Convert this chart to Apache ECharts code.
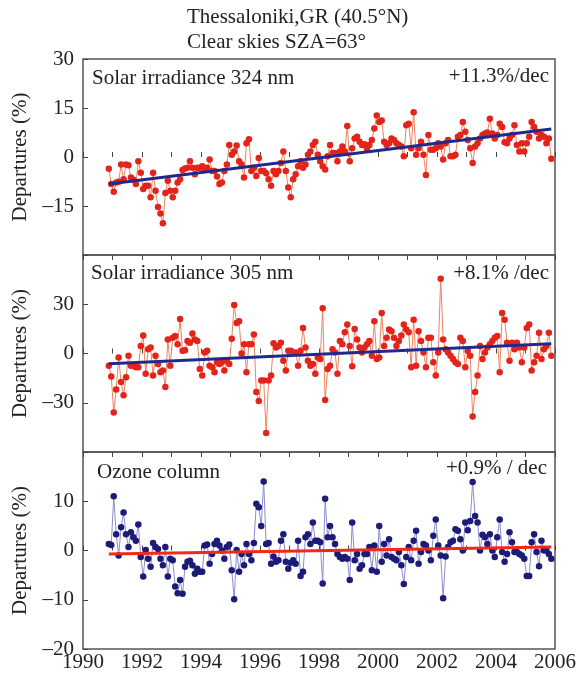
<!DOCTYPE html>
<html><head><meta charset="utf-8">
<script src="https://cdn.jsdelivr.net/npm/echarts@6/dist/echarts.min.js"></script>
<style>html,body{margin:0;padding:0;background:#fff}#c{width:580px;height:673px}</style>
</head><body><div id="c"></div>
<script>
// ---- data (monthly departures, %) ----
const startYear = 1990.875;   // first monthly point
const monthStep = 1 / 12;
const uv324 = [
-3.6,
-8.3,-10.6,-7.8,-7.6,-2.3,-6.8,-2.3,-2.5,-6.3,-7,-8.3,-1.3,
-4.8,-9.8,-8.8,-8.8,-12.3,-4.8,-10.3,-15.3,-17.3,-20.3,-11,-7.3,
-10.3,-12.3,-10.3,-7.8,-6.8,-4,-3.5,-3.3,-1.3,-3.3,-5.3,-3.3,
-3.3,-2.8,-3.8,-3.3,-0.8,-4.3,-4.3,-6,-8.3,-7.8,-4.3,-2.3,
3.7,0.7,1.7,3.5,-1.3,-2.3,-6.3,4.2,5.4,-4.3,-3.3,-5.8,
-0.3,-4.3,-4.3,-5,-6.8,-8.8,-4.3,-5.3,-4.3,-1.8,1.7,-4.3,
-9.3,-12.3,-6.8,-5.3,-2.8,-1.3,-3.3,-2.3,0.7,1.7,3.7,4.7,
0.7,-1.3,-2.8,-3.8,0.2,3.7,1.2,1.2,-1.3,1.7,3.2,1.7,
9.5,-1.3,2.7,5.7,6.2,4.7,3.7,3.9,2.7,3.7,5.2,8.7,
12.7,10.7,11.2,4.7,3.7,4.2,5.7,5.2,4.2,3.7,3.2,0.2,
9.7,10.2,2.7,13.7,0.7,2.7,4.7,0.7,-5.5,6.7,2.2,2.2,
2.7,4.2,3.2,-0.8,4.2,5.2,0.2,0.2,0.7,6.2,6.7,10.7,
7.7,5.2,2.7,-1.8,3.2,4.2,5.7,6.7,7.2,7.5,11.7,7.2,
5.7,6.7,10.2,9.2,4.5,4.2,5.7,6.7,9.7,3.7,1.7,4.2,
1.7,4.2,6.2,10.7,9.2,7.7,5.7,6.7,6.2,4.2,5.7,-0.5
];
const uv305 = [
-7.4,
-14,-36,-22,-2.4,-17.4,-25.4,-14.4,-1.4,-7.4,-7.4,-8.4,-8.4,
4.6,11,-12.4,2.6,3.6,-13.4,-1.4,-6.4,-11.4,-10.4,-20.4,8.6,
-7.4,9.6,10.6,5.6,21,1.6,2,7.6,6.6,12.2,8.6,7.6,
-9.4,-13.4,0.6,1.6,-7.4,-8.4,-11.4,-5.4,-6.4,-5.4,-10.4,-4.4,
-6.4,9,29.6,18.6,19.6,0,5.6,-11.4,5.6,5.6,11.6,-23.4,
-29,-16.4,-16.4,-48.4,-16.4,-13.4,6.2,3.6,4.6,6.6,-4.4,-10.4,
1.6,1.6,0.6,0.6,-7.4,1.6,15.6,3.6,-4.4,-7.4,-6.4,-12.4,
-2.4,-3.4,27.6,-28.4,-9.4,-7.4,2.6,0.6,-12.4,7.6,5.6,13,
17.6,4.6,-7.8,15,8.6,3.6,0.6,3.6,5.6,7.6,-1.4,19.6,
-3.4,-2.4,24.6,4.6,9.6,14.6,13.6,9.6,4.6,7.6,11,17.6,
14.6,13,-8.4,20.6,-7.4,13.6,7.6,0.6,-8.4,9.6,9.6,-5.4,
-13.4,0.6,45.6,8.6,2.6,0.6,-1.4,-3.4,-5.4,-6.4,9.6,7.6,
-8.4,1.6,-1.4,-38.4,-23.4,-13.4,4.6,-3.4,0.6,3.6,5.6,7.6,
9.6,10.6,-11.4,24.6,20.6,6.6,-4.4,6.6,2.6,6.6,3.6,-5.4,
3.6,15.6,17.6,-10.4,-5.4,-1.4,12.6,-3.4,2.6,4.6,12.6,-1.4
];
const ozone = [
1.3,
1.1,11,3.3,-1,4.7,7.7,3.3,0.7,3.7,2.7,2,5.3,
-1.3,-5.3,0.1,-1.7,-3.3,1.5,0.7,0.3,-1.7,-3,0.7,-5.3,
-1.7,-2,-7.3,-8.7,-6,-8.8,-3.3,-2.3,-2.1,-3,-4.7,-3.7,
-4.3,-4.3,1,1.2,-2.7,-0.7,1.3,2,1,0,-1.7,0.7,
1.2,-4,-9.9,0.1,-4.3,-0.7,-3,1.3,-0.7,-2,1.5,9.5,
8.8,5,14,1.3,1.5,-2.7,-1.2,-2.3,-2,2,3.3,-2.3,
-3.7,-2.5,-2,-2.7,2,-5.2,-4.3,2.7,3.3,1.3,5.7,2,
2,1.7,-6.7,10.5,2.7,5,2.7,1.3,-0.7,-1.3,-1.7,-1.3,
-1.7,-6,5.7,-2,-0.7,-3.7,-3,-0.7,-0.7,0.7,-4,1,
-4.3,5,-2.3,1.3,-1,2.3,-1.3,-1.7,-2,-0.3,-3,-6.8,
-1.3,0.7,-2,2,4,-2.7,-0.3,1.3,1,0,-2,3,
6.3,1,-1,-9.7,-1.2,0.7,1.7,2,4.3,4,2.3,0,
5.7,4.1,6,13.9,7,5.7,0,3.2,2.7,1.3,3.3,0,
-1.3,2.7,6.3,-0.3,-2.3,-0.7,3.7,1.7,-0.3,-0.3,-0.7,-1,
-1.7,-5.2,-5.2,1.7,3.3,-0.3,-3.2,2,0,0,-0.7,-1.7
];
// linear trends: value at first and last month
const trend324 = [-8.3, 8.6];
const trend305 = [-6.3, 6.0];
const trendOzone = [-0.7, 0.7];
const trendLabels = ['+11.3%/dec', '+8.1% /dec', '+0.9% / dec'];
const panelLabels = ['Solar irradiance 324 nm', 'Solar irradiance 305 nm', 'Ozone column'];
const titleLines = ['Thessaloniki,GR (40.5\u00B0N)', 'Clear skies SZA=63\u00B0'];
const yName = 'Departures (%)';

// ---- chart ----
const F = '"Liberation Serif","Times New Roman",serif';
const toXY = arr => arr.map((v, i) => [startYear + i * monthStep, v]);
const endYear = startYear + (uv324.length - 1) * monthStep;
const trendXY = t => [[startYear, t[0]], [endYear, t[1]]];

const grids = [
  {left: 83, width: 472, top: 59, height: 196},
  {left: 83, width: 472, top: 255, height: 197},
  {left: 83, width: 472, top: 452, height: 200}
].map(g => Object.assign(g, {show: true, borderColor: '#555', borderWidth: 1.5, backgroundColor: 'transparent'}));

function xAx(gi, pos, labels) {
  return {type: 'value', gridIndex: gi, position: pos, min: 1990, max: 2006, interval: 1,
    axisLine: {show: false}, splitLine: {show: false},
    axisTick: {show: true, inside: true, length: 5, lineStyle: {color: '#444', width: 1}},
    axisLabel: {show: labels, formatter: v => (v % 2 === 0 ? String(v) : ''), color: '#222',
      fontSize: 21, fontFamily: F, margin: 3}};
}
function yAx(gi, min, max, interval, hide) {
  return {type: 'value', gridIndex: gi, min, max, interval,
    axisLine: {show: false}, splitLine: {show: false},
    axisTick: {show: true, inside: true, length: 5, lineStyle: {color: '#444', width: 1}},
    axisLabel: {formatter: v => (hide.indexOf(v) >= 0 ? '' : String(v).replace('-', '\u2013')),
      color: '#222', fontSize: 21, fontFamily: F, margin: 9},
    name: yName, nameLocation: 'middle', nameGap: 52,
    nameTextStyle: {color: '#222', fontSize: 21, fontFamily: F}};
}

function dataSeries(xi, yi, arr, mc, lc) {
  return {type: 'line', xAxisIndex: xi, yAxisIndex: yi, data: toXY(arr), symbol: 'circle',
    symbolSize: 6.5, showSymbol: true, showAllSymbol: true,
    itemStyle: {color: mc}, lineStyle: {color: lc, width: 1}, z: 2, silent: true};
}
function trendSeries(xi, yi, t, c) {
  return {type: 'line', xAxisIndex: xi, yAxisIndex: yi, data: trendXY(t), symbol: 'none',
    lineStyle: {color: c, width: 3}, z: 5, silent: true};
}

const txt = (x, y, s, align) => ({type: 'text', x, y,
  style: {text: s, font: '21px ' + F, fill: '#222', textAlign: align || 'left', textVerticalAlign: 'middle'}});

const option = {
  animation: false,
  grid: grids,
  xAxis: [xAx(0, 'bottom', false), xAx(1, 'bottom', false), xAx(2, 'bottom', true),
          xAx(1, 'top', false), xAx(2, 'top', false)],
  yAxis: [yAx(0, -30, 30, 15, [-30]), yAx(1, -60, 60, 30, [60, -60]), yAx(2, -20, 20, 10, [20])],
  series: [
    dataSeries(0, 0, uv324, '#e3241b', '#f0825f'),
    trendSeries(0, 0, trend324, '#1f2a8c'),
    dataSeries(1, 1, uv305, '#e3241b', '#f0825f'),
    trendSeries(1, 1, trend305, '#1f2a8c'),
    dataSeries(2, 2, ozone, '#1c1c78', '#8c8cd0'),
    trendSeries(2, 2, trendOzone, '#f2281a')
  ],
  graphic: [
    txt(187, 17, titleLines[0]), txt(187, 42, titleLines[1]),
    txt(92, 78, panelLabels[0]), txt(549, 76, trendLabels[0], 'right'),
    txt(91, 273, panelLabels[1]), txt(549, 273, trendLabels[1], 'right'),
    txt(97, 472, panelLabels[2]), txt(547, 468, trendLabels[2], 'right')
  ]
};
const chart = echarts.init(document.getElementById('c'), null, {renderer: 'canvas'});
chart.setOption(option);
</script></body></html>
